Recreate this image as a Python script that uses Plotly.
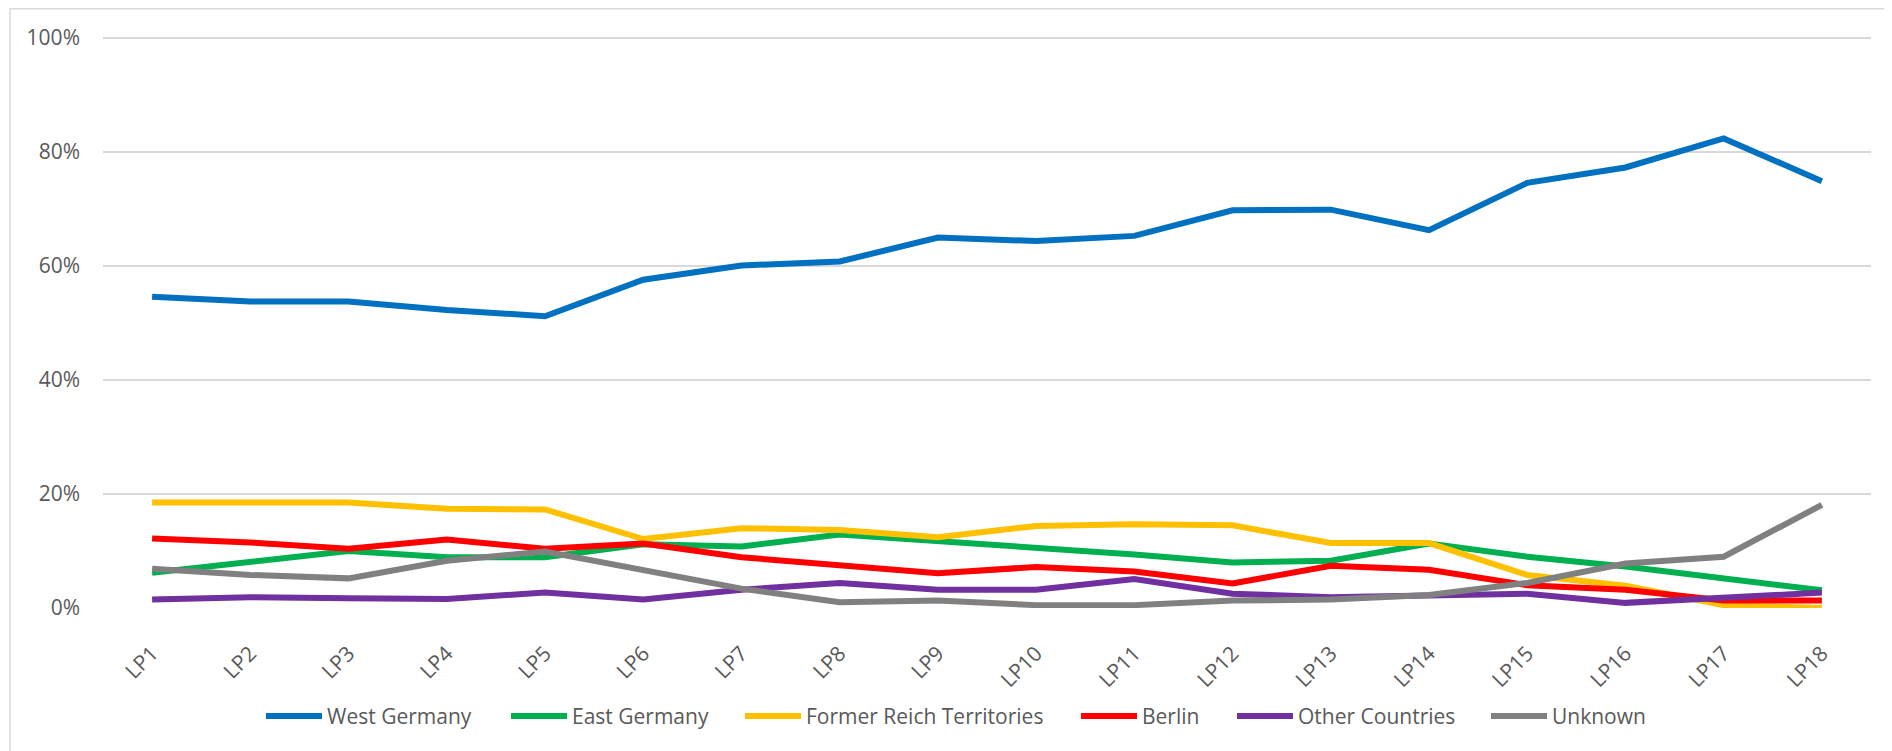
import plotly.graph_objects as go

# --- data (shares per legislative period, in %) ---
periods = [f"LP{i}" for i in range(1, 19)]

west_germany = [54.6, 53.8, 53.8, 52.3, 51.2, 57.6, 60.1, 60.8, 65.0, 64.4, 65.3, 69.8, 69.9, 66.3, 74.6, 77.3, 82.4, 74.9]
east_germany = [6.2, 8.2, 10.0, 8.9, 8.9, 11.2, 10.8, 12.9, 11.8, 10.5, 9.4, 8.0, 8.3, 11.3, 9.0, 7.3, 5.1, 3.1]
former_reich = [18.5, 18.5, 18.5, 17.4, 17.3, 12.1, 14.0, 13.7, 12.4, 14.4, 14.7, 14.5, 11.4, 11.4, 5.8, 3.9, 0.5, 0.0]
berlin = [12.2, 11.5, 10.4, 12.0, 10.4, 11.3, 8.9, 7.4, 6.1, 7.2, 6.4, 4.3, 7.4, 6.7, 4.0, 3.2, 1.3, 1.3]
other_countries = [1.5, 1.9, 1.7, 1.6, 2.7, 1.5, 3.2, 4.4, 3.2, 3.2, 5.1, 2.5, 1.9, 2.3, 2.5, 0.9, 1.9, 2.7]
unknown = [6.9, 5.8, 5.2, 8.3, 9.9, 6.6, 3.4, 1.0, 1.3, 0.5, 0.5, 1.3, 1.5, 2.3, 4.4, 7.8, 9.0, 18.1]

names = ["West Germany", "East Germany", "Former Reich Territories", "Berlin", "Other Countries", "Unknown"]
values = [west_germany, east_germany, former_reich, berlin, other_countries, unknown]
colors = ["#0070C0", "#00B050", "#FFC000", "#FF0000", "#7030A0", "#808080"]

FONT = "Open Sans, Liberation Sans, sans-serif"
TXT = "#595959"

# page is drawn with an 8px body margin, so the figure is a bit smaller
W, H = 1884, 743
L, R, T, B = 95, 21, 29, 142.5
plot_w = W - L - R
plot_h = H - T - B

# where each legend entry starts (page pixels) - one legend per series
legend_left = [261, 506, 740, 1076, 1232, 1486]
legend_y_page = 717

fig = go.Figure()
for i, (name, vals, color) in enumerate(zip(names, values, colors)):
    fig.add_trace(go.Scatter(
        x=periods,
        y=[v / 100 for v in vals],
        name=name,
        mode="lines",
        line=dict(color=color, width=6),
        legend="legend" if i == 0 else f"legend{i + 1}",
    ))

legends = {}
for i, px_left in enumerate(legend_left):
    key = "legend" if i == 0 else f"legend{i + 1}"
    legends[key] = dict(
        orientation="h",
        x=(px_left - 8 - L) / plot_w,
        xanchor="left",
        y=(H - B - (legend_y_page - 8)) / plot_h,
        yanchor="middle",
        font=dict(size=21, color=TXT),
        bgcolor="rgba(0,0,0,0)",
        itemwidth=56,
    )

fig.update_layout(
    width=W,
    height=H,
    margin=dict(l=L, r=R, t=T, b=B, autoexpand=False),
    paper_bgcolor="white",
    plot_bgcolor="white",
    font=dict(family=FONT, size=21, color=TXT),
    showlegend=True,
    xaxis=dict(
        type="category",
        range=[-0.5, 17.5],
        showgrid=False,
        showline=False,
        zeroline=False,
        tickangle=-45,
        ticks="",
        ticklabelstandoff=28,
        tickfont=dict(size=21, color=TXT),
    ),
    yaxis=dict(
        range=[0, 1.002],
        tickvals=[0, 0.2, 0.4, 0.6, 0.8, 1.0],
        tickformat=".0%",
        showgrid=True,
        gridcolor="#D9D9D9",
        gridwidth=1.5,
        zeroline=False,
        showline=False,
        ticks="",
        ticklabelstandoff=22,
        tickfont=dict(size=21, color=TXT),
    ),
    shapes=[
        # outer chart border (only left and top fall inside the picture)
        dict(type="rect", xref="paper", yref="paper",
             x0=(2 - L) / plot_w, x1=1.05, y0=-0.4, y1=(H - B - 0.75) / plot_h,
             line=dict(color="#D9D9D9", width=1.5), layer="below"),
    ],
    **legends,
)

fig.write_html("out.html")
